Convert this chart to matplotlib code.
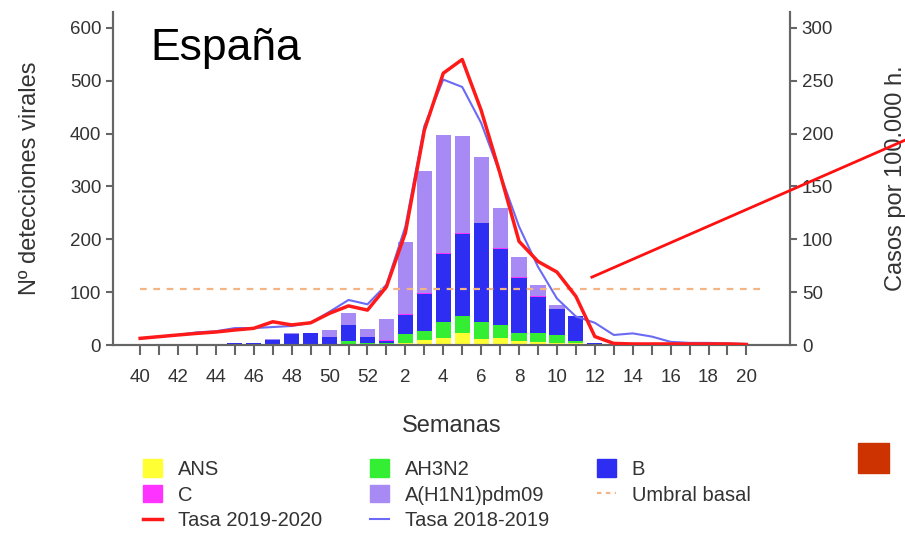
import matplotlib
matplotlib.use("Agg")
import matplotlib.pyplot as plt
import numpy as np
from matplotlib.patches import Patch, Rectangle
from matplotlib.lines import Line2D

plt.rcParams['font.family'] = ['Liberation Sans', 'DejaVu Sans']

# Epidemiological weeks of the 2019-2020 season
weeks = list(range(40, 53)) + list(range(1, 21))

# Viral detections per type (stacked bars, left axis)
ans = [0, 0, 0, 0, 0, 0, 0, 0, 0, 0, 0, 0, 0, 0, 3, 10, 14, 22, 12, 13, 8, 5, 3, 4, 0, 0, 0, 0, 0, 0, 0, 0, 0]
ah3n2 = [0, 0, 0, 0, 0, 0, 0, 0, 0, 2, 2, 8, 3, 4, 18, 16, 29, 33, 32, 25, 14, 17, 16, 3, 0, 0, 0, 0, 0, 0, 0, 0, 0]
b = [0, 2, 0, 0, 2, 3, 3, 10, 20, 20, 13, 30, 12, 3, 36, 71, 130, 155, 186, 143, 105, 68, 50, 48, 3, 0, 0, 0, 0, 0, 0, 0, 0]
c = [0, 0, 0, 0, 0, 0, 0, 0, 0, 0, 0, 0, 0, 3, 1, 1, 1, 1, 1, 3, 1, 2, 0, 0, 0, 0, 0, 0, 0, 0, 0, 0, 0]
h1n1 = [0, 0, 0, 0, 0, 0, 0, 2, 2, 0, 13, 22, 15, 40, 137, 232, 223, 185, 125, 75, 38, 22, 7, 0, 0, 0, 0, 0, 0, 0, 0, 0, 0]

# Incidence rates per 100,000 inhabitants (right axis)
tasa_1920 = [6.3, 7.9, 9.5, 11, 12.3, 14.2, 15.8, 22, 19, 21, 30, 37, 33, 55, 106, 203, 257, 270,
             222, 162, 98, 79, 69, 46, 8, 1.5, 1, 1, 1, 1, 1, 1, 0.5]
tasa_1819 = [6, 8, 9.5, 12, 13, 16, 16, 17, 18, 21, 31.5, 42.6, 38.5, 57, 112, 207, 251, 244,
             210, 162, 112, 74, 44, 27, 21, 9.5, 11, 8, 3, 2, 2, 1.5, 1]
umbral_basal = 52.5

x_ticklabels = [str(w) if i % 2 == 0 else "" for i, w in enumerate(weeks)]

COL_ANS = "#FFFF33"
COL_H3 = "#33EE33"
COL_B = "#2E2EF2"
COL_C = "#FF33FF"
COL_H1 = "#A88AF5"
COL_RED = "#FF1A1A"
COL_BLUE = "#6A6AF5"
COL_UMB = "#F5B484"
GRAY = "#666666"
TXT = "#333333"

fig = plt.figure(figsize=(9.05, 5.33), dpi=100)
ax = fig.add_axes([0.1249, 0.3527, 0.748, 0.625])
ax2 = ax.twinx()

x = np.arange(len(weeks))
width = 0.8
bottom = np.zeros(len(weeks))
series = [(ans, COL_ANS, "ANS"), (ah3n2, COL_H3, "AH3N2"), (b, COL_B, "B"),
          (c, COL_C, "C"), (h1n1, COL_H1, "A(H1N1)pdm09")]
for vals, col, lab in series:
    v = np.array(vals, dtype=float)
    ax.bar(x, v, width, bottom=bottom, color=col, edgecolor="none", label=lab, zorder=2)
    bottom += v

ax2.plot(x, tasa_1819, color=COL_BLUE, lw=1.5, zorder=3)
ax2.plot(x, tasa_1920, color=COL_RED, lw=2.5, zorder=4)
ax2.plot([0, 33], [umbral_basal, umbral_basal], color=COL_UMB, lw=1.6,
         ls=(0, (3, 3)), zorder=3)

ax.set_xlim(-1.43, 34.3)
ax.set_ylim(0, 630)
ax2.set_ylim(0, 315)

ax.set_xticks(x)
ax.set_xticklabels(x_ticklabels, fontsize=13.5, color=TXT)
ax.set_yticks(range(0, 601, 100))
ax.tick_params(axis="y", labelsize=13.5, colors=TXT, length=5, width=1.5, color=GRAY)
ax.tick_params(axis="x", length=7, width=1.5, color=GRAY, pad=10)
ax2.set_yticks(range(0, 301, 50))
ax2.tick_params(axis="y", labelsize=13.5, colors=TXT, length=5, width=1.5, color=GRAY)

for a in (ax, ax2):
    a.spines["top"].set_visible(False)
    for s in ("left", "right", "bottom"):
        a.spines[s].set_color(GRAY)
        a.spines[s].set_linewidth(1.5)
ax.set_zorder(ax2.get_zorder() - 1)
ax.patch.set_visible(False)
ax2.patch.set_visible(False)

ax.set_ylabel("Nº detecciones virales", fontsize=17, color=TXT, labelpad=21)
ax2.set_ylabel("Casos por 100.000 h.", fontsize=17, color=TXT, labelpad=37)
ax.set_xlabel("Semanas", fontsize=17, color=TXT, labelpad=21)
ax.text(0.055, 0.855, "España", transform=ax.transAxes, fontsize=32, color="black")

handles = [
    Patch(color=COL_ANS), Patch(color=COL_C), Line2D([], [], color=COL_RED, lw=2.5),
    Patch(color=COL_H3), Patch(color=COL_H1), Line2D([], [], color=COL_BLUE, lw=1.5),
    Patch(color=COL_B), Line2D([], [], color=COL_UMB, lw=1.6, ls=(0, (2, 2))),
]
labels = ["ANS", "C", "Tasa 2019-2020", "AH3N2", "A(H1N1)pdm09", "Tasa 2018-2019",
          "B", "Umbral basal"]
fig.legend(handles, labels, ncol=3, loc="upper left", bbox_to_anchor=(0.158, 0.138),
           frameon=False, fontsize=14.5, handlelength=0.95, handleheight=0.95,
           columnspacing=2.35, labelspacing=0.3, handletextpad=0.8,
           labelcolor=TXT, borderaxespad=0, borderpad=0)

# Pointer line and marker square drawn on the figure
fig.add_artist(Line2D([0.654, 1.0], [0.480, 0.737], color="#FF1010", lw=2,
                      transform=fig.transFigure))
fig.add_artist(Rectangle((0.948, 0.1126), 0.0343, 0.0563, color="#CC3300",
                         transform=fig.transFigure))

fig.savefig("out.png", dpi=100)
